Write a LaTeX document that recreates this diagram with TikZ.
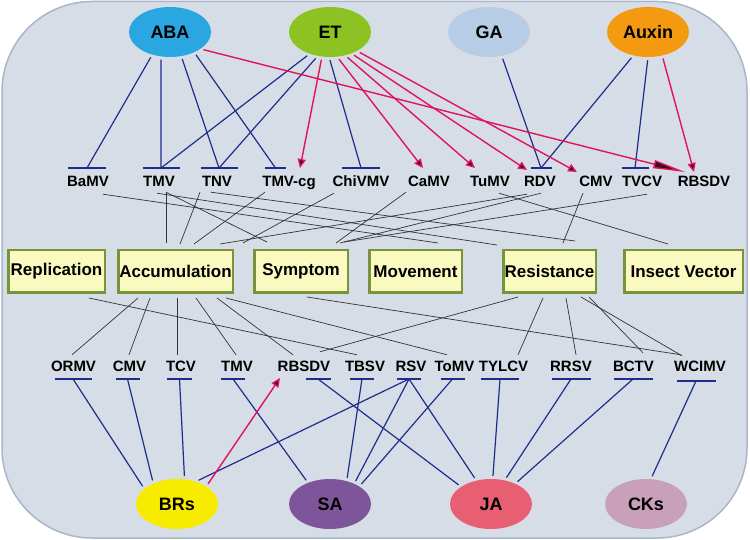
\documentclass[tikz,border=0pt]{standalone}
\usepackage{fontspec}
\setmainfont{Liberation Sans}
\usetikzlibrary{calc,arrows.meta,shapes.geometric}
\definecolor{panelfill}{HTML}{D6DDE7}
\definecolor{paneldraw}{HTML}{A9B6CA}
\definecolor{cABA}{HTML}{2AA7E0}
\definecolor{cET}{HTML}{8CC322}
\definecolor{cGA}{HTML}{B7CDE5}
\definecolor{cAux}{HTML}{F39A10}
\definecolor{cBR}{HTML}{F7EC00}
\definecolor{cSA}{HTML}{7E559B}
\definecolor{cJA}{HTML}{E85E72}
\definecolor{cCK}{HTML}{C9A0BA}
\definecolor{boxfill}{HTML}{F9F9C0}
\definecolor{boxgreen}{HTML}{77933C}
\definecolor{inhblue}{HTML}{1E2D8C}
\definecolor{actred}{HTML}{E0145A}
\definecolor{tipdark}{HTML}{3A0A18}
\definecolor{linkgray}{HTML}{333333}
\begin{document}
\begin{tikzpicture}[x=1pt,y=-1pt,
  hormone/.style={ellipse, minimum width=82pt, minimum height=50pt, inner sep=0pt, font=\fontsize{18}{20}\selectfont\bfseries},
  phen/.style={rectangle, draw=boxgreen, line width=2.5pt, fill=boxfill, minimum height=42.5pt, inner sep=0pt, font=\fontsize{17}{19}\selectfont\bfseries},
  vlab/.style={inner sep=0pt, text height=11pt, text depth=0pt, anchor=base, font=\fontsize{15}{17}\selectfont\bfseries},
  inh/.style={draw=inhblue, line width=1.2pt},
  act/.style={draw=actred, line width=1.4pt, -{Triangle[length=9pt,width=8pt,fill=tipdark]}},
  link/.style={draw=linkgray, line width=0.7pt},
  hgap/.style={shorten <=3pt}
]
\useasboundingbox (0,0) rectangle (750,540);
\path[fill=white] (0,0) rectangle (750,540);
\draw[fill=panelfill, draw=paneldraw, line width=1.5pt, rounded corners=90pt] (2,1.5) rectangle (747,538);

% hormones top
\node[hormone, fill=cABA] (ABA) at (170,32) {ABA};
\node[hormone, fill=cET] (ET) at (330,32) {ET};
\node[hormone, fill=cGA] (GA) at (489,32) {GA};
\node[hormone, fill=cAux] (Aux) at (648,32) {Auxin};
% hormones bottom
\node[hormone, fill=cBR] (BR) at (177,504) {BRs};
\node[hormone, fill=cSA] (SA) at (330,504) {SA};
\node[hormone, fill=cJA] (JA) at (491,504) {JA};
\node[hormone, fill=cCK] (CK) at (646,504) {CKs};

% top virus labels
\node[vlab] (tBaMV) at (88,187) {BaMV};
\node[vlab] (tTMV) at (159,187) {TMV};
\node[vlab] (tTNV) at (217,187) {TNV};
\node[vlab] (tTMVcg) at (289,187) {TMV-cg};
\node[vlab] (tChiVMV) at (361,187) {ChiVMV};
\node[vlab] (tCaMV) at (429,187) {CaMV};
\node[vlab] (tTuMV) at (490,187) {TuMV};
\node[vlab] (tRDV) at (540,187) {RDV};
\node[vlab] (tCMV) at (596,187) {CMV};
\node[vlab] (tTVCV) at (642,187) {TVCV};
\node[vlab] (tRBSDV) at (704,187) {RBSDV};

% bottom virus labels
\node[vlab] (bORMV) at (73.5,371) {ORMV};
\node[vlab] (bCMV) at (129.5,371) {CMV};
\node[vlab] (bTCV) at (181,371) {TCV};
\node[vlab] (bTMV) at (237,371) {TMV};
\node[vlab] (bRBSDV) at (304,371) {RBSDV};
\node[vlab] (bTBSV) at (365,371) {TBSV};
\node[vlab] (bRSV) at (411,371) {RSV};
\node[vlab] (bToMV) at (454.5,371) {ToMV};
\node[vlab] (bTYLCV) at (503.5,371) {TYLCV};
\node[vlab] (bRRSV) at (571,371) {RRSV};
\node[vlab] (bBCTV) at (633.5,371) {BCTV};
\node[vlab] (bWCIMV) at (700,371) {WCIMV};

% phenotype boxes
\node[phen, minimum width=96.5pt] (Rep) at (56.5,271.5) {Replication};
\node[phen, minimum width=114.5pt] (Acc) at (175.5,271.5) {Accumulation};
\node[phen, minimum width=93.5pt] (Sym) at (301,271.5) {Symptom};
\node[phen, minimum width=92.5pt] (Mov) at (415.5,271.5) {Movement};
\node[phen, minimum width=92.5pt] (Res) at (549.5,271.5) {Resistance};
\node[phen, minimum width=118.5pt] (Ins) at (683.5,271.5) {Insect Vector};

% inhibition bar points (top)
\coordinate (iBaMV) at (87,168);
\coordinate (iTMV) at (161,168);
\coordinate (iTNV) at (219,168);
\coordinate (iTMVcg) at (275.5,168);
\coordinate (iChiVMV) at (361,168);
\coordinate (iRDV) at (541,168);
\coordinate (iTVCV) at (635,168);
% inhibition bar points (bottom)
\coordinate (jORMV) at (73,379);
\coordinate (jCMV) at (127.5,379);
\coordinate (jTCV) at (179.5,379);
\coordinate (jTMV) at (233,379);
\coordinate (jRBSDV) at (318,379);
\coordinate (jTBSV) at (362,379);
\coordinate (jRSV) at (409,379);
\coordinate (jToMV) at (452.5,379);
\coordinate (jTYLCV) at (500,379);
\coordinate (jRRSV) at (571,379);
\coordinate (jBCTV) at (633,379);
\coordinate (jWCIMV) at (696,381);
% arrow targets
\coordinate (aTMVcg) at (300,168);
\coordinate (aCaMV) at (423,168);
\coordinate (aTuMV) at (475,168);
\coordinate (aRDV) at (527,170);
\coordinate (aCMV) at (577,172);
\coordinate (aRBSDV1) at (685,172);
\coordinate (aRBSDV2) at (694,172);
\coordinate (aRBSDVb) at (280,378);

% bars
\foreach \p/\w in {iBaMV/19, iTMV/18.5, iTNV/18.5, iTMVcg/10.5, iChiVMV/19, iRDV/10.5, iTVCV/13.5,
  jORMV/18.5, jCMV/12, jTCV/12.5, jTMV/12, jRBSDV/12.5, jTBSV/12, jRSV/12, jToMV/12, jTYLCV/19, jRRSV/19.5, jBCTV/19.5, jWCIMV/19.5}
  \draw[inh] ($(\p)+(-\w,0)$) -- ($(\p)+(\w,0)$);

% thin links: top viruses -> phenotypes
\draw[link] ($(tBaMV.south)+(15,7)$) -- ($(Mov.north)+(22.5,-6)$);
\draw[link] ($(tTMV.south)+(-2,6)$) -- ($(Res.north)+(-52.5,-4)$);
\draw[link] ($(tTMV.south)+(7,5)$) -- ($(Acc.north)+(-9.5,-6)$);
\draw[link] ($(tTMV.south)+(7,5)$) -- ($(Sym.north)+(-34,-7)$);
\draw[link] ($(tTNV.south)+(-17,5)$) -- ($(Acc.north)+(4.5,-5)$);
\draw[link] ($(tTNV.south)+(-6,5)$) -- ($(Res.north)+(25.5,-8)$);
\draw[link] ($(tTMVcg.south)+(-24,5)$) -- ($(Acc.north)+(18.5,-5)$);
\draw[link] ($(tChiVMV.south)+(-27,6)$) -- ($(Acc.north)+(67.5,-6)$);
\draw[link] ($(tCaMV.south)+(-23,5)$) -- ($(Sym.north)+(35,-6)$);
\draw[link] ($(tRDV.south)+(-13,7)$) -- ($(Acc.north)+(44.5,-5)$);
\draw[link] ($(tRDV.south)+(1,6)$) -- ($(Sym.north)+(39,-6)$);
\draw[link] ($(tTVCV.south)+(5,7)$) -- ($(Sym.north)+(43,-7)$);
\draw[link] ($(tCMV.south)+(-13,6)$) -- ($(Res.north)+(13.5,-6)$);
\draw[link] ($(tTuMV.south)+(9,6)$) -- ($(Ins.north)+(-15.5,-5)$);

% thin links: phenotypes -> bottom viruses
\draw[link] ($(Rep.south)+(32.5,4)$) -- ($(bTBSV.north)+(-8,-5)$);
\draw[link] ($(Acc.south)+(-37.5,4)$) -- ($(bORMV.north)+(-1.5,-5)$);
\draw[link] ($(Acc.south)+(-25.5,4)$) -- ($(bCMV.north)+(-0.5,-5)$);
\draw[link] ($(Acc.south)+(1.5,4)$) -- ($(bTCV.north)+(-4,-5)$);
\draw[link] ($(Acc.south)+(20.5,4)$) -- ($(bTMV.north)+(-1,-5)$);
\draw[link] ($(Acc.south)+(41.5,4)$) -- ($(bRBSDV.north)+(-11,-5)$);
\draw[link] ($(Acc.south)+(50.5,4)$) -- ($(bToMV.north)+(-7.5,-5)$);
\draw[link] ($(Sym.south)+(6,3)$) -- ($(bWCIMV.north)+(-19,-5)$);
\draw[link] ($(Res.south)+(-31.5,3)$) -- ($(bRBSDV.north)+(16,-8)$);
\draw[link] ($(Res.south)+(-6.5,4)$) -- ($(bTYLCV.north)+(14.5,-5)$);
\draw[link] ($(Res.south)+(16.5,4)$) -- ($(bRRSV.north)+(5,-5)$);
\draw[link] ($(Res.south)+(31.5,3)$) -- ($(bWCIMV.north)+(-18,-4)$);
\draw[link] ($(Res.south)+(39.5,3)$) -- ($(bBCTV.north)+(9.5,-7)$);

% top inhibitions
\draw[inh, hgap] (ABA.232) -- (iBaMV);
\draw[inh, hgap] (ABA.250) -- (iTMV);
\draw[inh, hgap] (ABA.295) -- (iTNV);
\draw[inh, hgap] (ABA.320) -- (iTMVcg);
\draw[inh, hgap] (ET.227) -- (iTMV);
\draw[inh, hgap] (ET.243) -- (iTNV);
\draw[inh, hgap] (ET.268) -- (iChiVMV);
\draw[inh, hgap] (GA.298) -- (iRDV);
\draw[inh, hgap] (Aux.238) -- (iRDV);
\draw[inh, hgap] (Aux.270) -- (iTVCV);

% top activations
\draw[act, hgap] (ET.252) -- (aTMVcg);
\draw[act, hgap] (ET.286) -- (aCaMV);
\draw[act, hgap] (ET.303) -- (aTuMV);
\draw[act, hgap] (ET.315) -- (aRDV);
\draw[act, hgap] (ET.325) -- (aCMV);
\draw[act, hgap, -{Triangle[length=32pt,width=8pt,fill=tipdark]}] (ABA.331) -- (aRBSDV1);
\draw[act, hgap] (Aux.301) -- (aRBSDV2);

% bottom inhibitions
\draw[inh, hgap] (BR.155) -- (jORMV);
\draw[inh, hgap] (BR.139) -- (jCMV);
\draw[inh, hgap] (BR.73) -- (jTCV);
\draw[inh, hgap] (BR.50) -- (jRSV);
\draw[inh, hgap] (SA.136) -- (jTMV);
\draw[inh, hgap] (SA.54) -- (jTBSV);
\draw[inh, hgap] (SA.40) -- (jRSV);
\draw[inh, hgap] (SA.31) -- (jToMV);
\draw[inh, hgap] (JA.150) -- (jRBSDV);
\draw[inh, hgap] (JA.122) -- (jRSV);
\draw[inh, hgap] (JA.86) -- (jTYLCV);
\draw[inh, hgap] (JA.60) -- (jRRSV);
\draw[inh, hgap] (JA.40) -- (jBCTV);
\draw[inh, hgap] (CK.79) -- (jWCIMV);

% bottom activation
\draw[act, hgap] (BR.31) -- (aRBSDVb);
\end{tikzpicture}
\end{document}
